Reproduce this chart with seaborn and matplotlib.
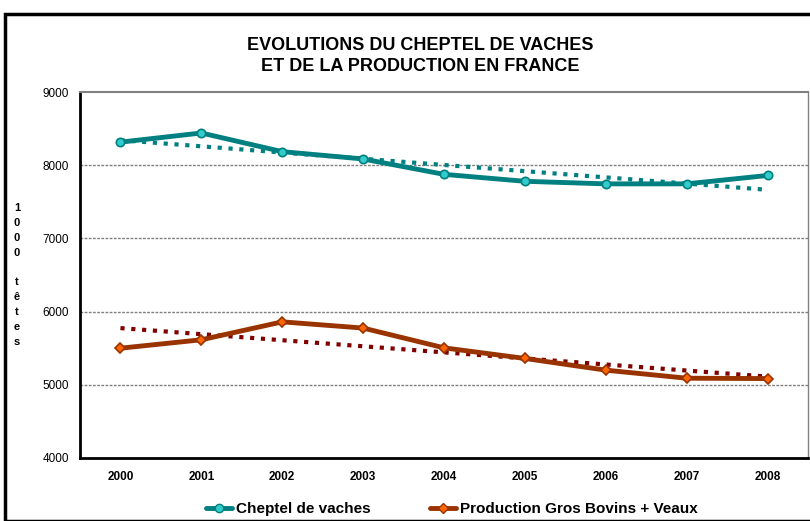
import numpy as np
import pandas as pd
import seaborn as sns
import matplotlib.pyplot as plt
from matplotlib.patches import Rectangle
from matplotlib.lines import Line2D

# data (1000 têtes)
annees = ['2000', '2001', '2002', '2003', '2004', '2005', '2006', '2007', '2008']
cheptel = [8315, 8440, 8185, 8085, 7875, 7780, 7745, 7745, 7860]
production = [5500, 5615, 5860, 5775, 5505, 5360, 5200, 5090, 5085]

sns.set_style("white")
plt.rcParams['font.family'] = ['Liberation Sans', 'DejaVu Sans']
plt.rcParams['text.color'] = 'black'
plt.rcParams['xtick.color'] = 'black'
plt.rcParams['ytick.color'] = 'black'

df = pd.DataFrame({'x': np.arange(len(annees)), 'cheptel': cheptel, 'production': production})

fig = plt.figure(figsize=(8.1, 5.21), dpi=100)
ax = fig.add_axes([80/810, 63/521, 728/810, 366/521])

# frame around the whole chart
fig.patches.append(Rectangle((5/810, 0.0), 1.0, 1 - 14/521, transform=fig.transFigure,
                             fill=False, edgecolor='black', linewidth=2.5, clip_on=False))

# grid lines
for v in [5000, 6000, 7000, 8000]:
    ax.axhline(v, color='#808080', linestyle=(0, (2, 1)), linewidth=1, zorder=0)

# linear trend lines (Excel style)
xs = df['x'].values
for col, c in [('cheptel', '#008080'), ('production', '#800000')]:
    p = np.polyfit(xs, df[col].values, 1)
    ax.plot(xs, np.polyval(p, xs), color=c, linestyle=(0, (1, 1.6)), linewidth=3, zorder=2)

sns.lineplot(data=df, x='x', y='cheptel', ax=ax, color='#008080', linewidth=3.5,
             marker='o', markersize=6, markerfacecolor='#33CCCC', markeredgecolor='#008080',
             markeredgewidth=1.2, zorder=3)
sns.lineplot(data=df, x='x', y='production', ax=ax, color='#993300', linewidth=3.5,
             marker='D', markersize=5.5, markerfacecolor='#FF6600', markeredgecolor='#993300',
             markeredgewidth=1.2, zorder=3)

ax.set_xlim(-0.5, len(annees) - 0.5)
ax.set_ylim(4000, 9000)
ax.set_yticks(range(4000, 9001, 1000))
ax.set_yticklabels([str(v) for v in range(4000, 9001, 1000)], fontsize=8.5)
ax.set_xticks(xs)
ax.set_xticklabels(annees, fontsize=8.5, fontweight='bold')
ax.set_xticks(np.arange(0.5, len(annees) - 0.5), minor=True)
ax.tick_params(axis='x', which='major', length=0, pad=9)
ax.tick_params(axis='x', which='minor', length=5, width=1.2, direction='out', color='black')
ax.tick_params(axis='y', length=5, width=1.2, direction='out', color='black', pad=3)
ax.set_xlabel('')
ax.set_ylabel('')

for s in ['left', 'bottom']:
    ax.spines[s].set_color('black')
    ax.spines[s].set_linewidth(2)
ax.spines['top'].set_color('#808080')
ax.spines['top'].set_linewidth(1.5)
ax.spines['right'].set_color('#808080')
ax.spines['right'].set_linewidth(1)

fig.text(420/810, 1 - 56/521, 'EVOLUTIONS DU CHEPTEL DE VACHES\nET DE LA PRODUCTION EN FRANCE',
         ha='center', va='center', fontsize=13, fontweight='bold', linespacing=1.3)

fig.text(17/810, 1 - 275/521, '1\n0\n0\n0\n\nt\nê\nt\ne\ns', ha='center', va='center',
         fontsize=8, fontweight='bold', linespacing=1.6)

handles = [
    Line2D([], [], color='#008080', linewidth=3.5, marker='o', markersize=6,
           markerfacecolor='#33CCCC', markeredgecolor='#008080'),
    Line2D([], [], color='#993300', linewidth=3.5, marker='D', markersize=5.5,
           markerfacecolor='#FF6600', markeredgecolor='#993300'),
]
fig.legend(handles, ['Cheptel de vaches', 'Production Gros Bovins + Veaux'],
           loc='center', bbox_to_anchor=(452/810, 1 - 509/521), ncol=2, frameon=False,
           prop={'weight': 'bold', 'size': 11}, handlelength=1.7, handletextpad=0.25,
           columnspacing=3.9, borderpad=0)

fig.savefig('out.png', dpi=100)
